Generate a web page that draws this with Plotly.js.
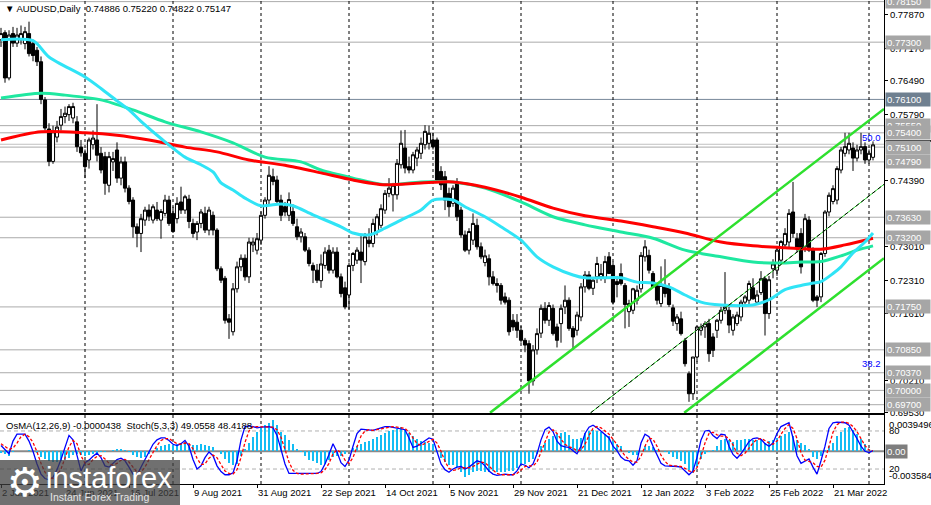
<!DOCTYPE html>
<html><head><meta charset="utf-8">
<script src="https://cdn.plot.ly/plotly-3.0.1.min.js"></script>
<style>html,body{margin:0;padding:0;background:#fff;overflow:hidden}#chart{width:931px;height:505px}</style>
</head><body><div id="chart"></div>
<script>
// ---------- DATA ----------
const opens = [
.7735,.7750,.7655,.7748,.7728,.7735,.7727,.7748,.7727,.7713,
.7689,.7609,.7548,.7480,.7531,.7556,.7574,.7578,.7571,.7563,
.7510,.7497,.7483,.7515,.7525,.7497,.7490,.7430,.7479,.7504,
.7445,.7479,.7424,.7399,.7343,.7329,.7357,.7378,.7357,.7378,
.7357,.7371,.7399,.7371,.7360,.7395,.7378,.7401,.7350,.7332,
.7350,.7371,.7336,.7367,.7336,.7255,.7235,.7150,.7123,.7213,
.7259,.7277,.7238,.7305,.7294,.7315,.7367,.7399,.7448,.7441,
.7399,.7385,.7367,.7375,.7343,.7322,.7322,.7294,.7262,.7252,
.7230,.7262,.7294,.7252,.7290,.7238,.7215,.7200,.7262,.7273,
.7290,.7270,.7315,.7308,.7333,.7346,.7378,.7413,.7410,.7410,
.7473,.7508,.7469,.7462,.7487,.7497,.7515,.7518,.7525,.7525,
.7459,.7448,.7413,.7392,.7434,.7378,.7326,.7294,.7315,.7346,
.7301,.7268,.7276,.7238,.7224,.7220,.7196,.7189,.7147,.7143,
.7126,.7105,.7098,.7020,.7085,.7120,.7172,.7147,.7172,.7133,
.7140,.7175,.7189,.7130,.7126,.7154,.7217,.7242,.7214,.7238,
.7238,.7235,.7280,.7262,.7228,.7245,.7220,.7165,.7168,.7189,
.7213,.7280,.7283,.7245,.7220,.7182,.7217,.7217,.7173,.7140,
.7150,.7105,.7035,.6993,.7070,.7126,.7133,.7140,.7112,.7126,
.7147,.7168,.7168,.7126,.7140,.7154,.7185,.7189,.7215,.7185,
.7205,.7234,.7161,.7255,.7252,.7273,.7305,.7311,.7374,.7318,
.7329,.7301,.7357,.7294,.7196,.7196,.7287,.7374,.7396,.7399,
.7462,.7497,.7504,.7508,.7487,.7504,.7511,.7483,.74886];
const highs = [
.7760,.7755,.7755,.7762,.7760,.7765,.7762,.7773,.7735,.7720,
.7700,.7615,.7560,.7555,.7565,.7590,.7595,.7600,.7603,.7575,
.7525,.7505,.7530,.7545,.7600,.7510,.7500,.7500,.7500,.7520,
.7490,.7490,.7430,.7405,.7350,.7370,.7385,.7390,.7390,.7395,
.7380,.7410,.7408,.7385,.7405,.7427,.7410,.7410,.7360,.7355,
.7380,.7385,.7385,.7375,.7340,.7260,.7240,.7160,.7225,.7270,
.7285,.7285,.7320,.7320,.7330,.7375,.7405,.7470,.7465,.7450,
.7410,.7395,.7415,.7390,.7360,.7340,.7330,.7300,.7268,.7265,
.7285,.7300,.7305,.7300,.7300,.7245,.7228,.7268,.7290,.7300,
.7325,.7330,.7340,.7360,.7370,.7390,.7420,.7445,.7435,.7485,
.7545,.7546,.7490,.7500,.7510,.7530,.7556,.7555,.7540,.7530,
.7470,.7460,.7425,.7430,.7445,.7385,.7335,.7340,.7371,.7360,
.7310,.7295,.7285,.7250,.7235,.7225,.7205,.7195,.7160,.7160,
.7135,.7110,.7105,.7095,.7130,.7180,.7185,.7185,.7180,.7140,
.7180,.7220,.7195,.7135,.7165,.7225,.7250,.7250,.7235,.7280,
.7265,.7282,.7290,.7270,.7240,.7266,.7225,.7190,.7215,.7220,
.7290,.7315,.7295,.7250,.7225,.7260,.7275,.7225,.7180,.7160,
.7165,.7110,.7040,.7070,.7135,.7140,.7145,.7150,.7120,.7150,
.7175,.7248,.7175,.7160,.7165,.7190,.7200,.7230,.7235,.7210,
.7250,.7240,.7240,.7275,.7300,.7315,.7340,.7380,.7437,.7330,
.7340,.7370,.7365,.7300,.7200,.7290,.7378,.7415,.7430,.7470,
.7510,.7540,.7540,.7520,.7515,.7540,.7520,.7505,.75220];
const lows = [
.7720,.7645,.7650,.7720,.7720,.7725,.7715,.7700,.7690,.7680,
.7600,.7545,.7470,.7475,.7520,.7545,.7560,.7565,.7560,.7500,
.7490,.7445,.7465,.7505,.7480,.7455,.7410,.7415,.7460,.7435,
.7430,.7415,.7390,.7320,.7300,.7290,.7345,.7355,.7350,.7355,
.7318,.7365,.7345,.7330,.7350,.7370,.7370,.7340,.7320,.7315,
.7340,.7330,.7325,.7325,.7250,.7225,.7140,.7108,.7115,.7205,
.7250,.7230,.7225,.7290,.7285,.7305,.7360,.7390,.7430,.7390,
.7355,.7365,.7355,.7345,.7315,.7310,.7290,.7260,.7225,.7225,
.7215,.7255,.7245,.7245,.7235,.7195,.7170,.7170,.7250,.7265,
.7225,.7262,.7300,.7300,.7325,.7340,.7370,.7405,.7375,.7400,
.7465,.7455,.7455,.7455,.7470,.7485,.7505,.7505,.7505,.7435,
.7420,.7378,.7364,.7385,.7355,.7320,.7290,.7285,.7305,.7295,
.7275,.7260,.7220,.7220,.7205,.7180,.7180,.7115,.7125,.7110,
.7100,.7080,.6993,.7010,.7075,.7110,.7140,.7135,.7115,.7090,
.7100,.7160,.7125,.7085,.7115,.7145,.7205,.7210,.7200,.7225,
.7230,.7225,.7245,.7180,.7195,.7220,.7130,.7133,.7160,.7180,
.7205,.7270,.7245,.7215,.7180,.7175,.7195,.7175,.7135,.7125,
.7115,.7050,.6976,.6980,.7060,.7115,.7110,.7060,.7070,.7110,
.7140,.7160,.7120,.7115,.7135,.7145,.7175,.7180,.7190,.7180,
.7200,.7115,.7150,.7235,.7240,.7265,.7300,.7300,.7320,.7290,
.7245,.7290,.7290,.7185,.7175,.7185,.7280,.7365,.7390,.7390,
.7455,.7490,.7495,.7460,.7480,.7495,.7475,.7475,.74822];
const closes = [
.7748,.7655,.7745,.7728,.7745,.7748,.7752,.7706,.7702,.7689,
.7610,.7550,.7480,.7542,.7552,.7574,.7581,.7595,.7595,.7511,
.7498,.7469,.7525,.7529,.7493,.7462,.7434,.7490,.7486,.7445,
.7479,.7424,.7396,.7343,.7329,.7360,.7378,.7365,.7385,.7360,
.7375,.7399,.7350,.7333,.7392,.7378,.7406,.7354,.7329,.7350,
.7374,.7336,.7378,.7336,.7255,.7231,.7147,.7143,.7213,.7259,
.7277,.7238,.7311,.7311,.7318,.7367,.7399,.7451,.7438,.7396,
.7367,.7374,.7400,.7350,.7322,.7332,.7294,.7266,.7252,.7231,
.7265,.7290,.7252,.7290,.7238,.7203,.7175,.7262,.7287,.7294,
.7273,.7322,.7308,.7350,.7364,.7381,.7413,.7424,.7430,.7476,
.7518,.7466,.7462,.7494,.7504,.7518,.7543,.7539,.7511,.7441,
.7431,.7399,.7385,.7424,.7364,.7326,.7294,.7333,.7350,.7301,
.7280,.7282,.7238,.7224,.7220,.7189,.7185,.7123,.7133,.7126,
.7105,.7095,.7020,.7085,.7119,.7172,.7147,.7178,.7119,.7105,
.7172,.7189,.7130,.7112,.7158,.7217,.7242,.7214,.7231,.7266,
.7245,.7270,.7245,.7185,.7222,.7224,.7180,.7182,.7213,.7210,
.7283,.7301,.7252,.7217,.7189,.7220,.7203,.7180,.7145,.7154,
.7119,.7056,.6993,.7070,.7133,.7133,.7140,.7077,.7084,.7147,
.7168,.7175,.7137,.7154,.7158,.7185,.7196,.7224,.7192,.7200,
.7234,.7161,.7232,.7265,.7294,.7312,.7329,.7371,.7329,.7298,
.7259,.7360,.7294,.7189,.7189,.7287,.7374,.7409,.7423,.7465,
.7504,.7511,.7518,.7487,.7504,.7511,.7483,.7497,.75147];

// moving averages, sampled along the bars (bar index, price)
const maFastIdx = [0,8,12,21,25,29,32,35,40,46,50,53,55,58,61,65,70,73,78,85,88,92,96,100,105,108,113,116,121,125,130,134,138,143,146,150,155,159,163,167,171,175,180,188,192,196,200,203,205,208,210,213,216,218];
const maFastVal = [.7735,.7733,.7699,.7657,.7633,.7607,.7588,.7564,.7528,.7489,.7473,.7458,.7435,.7420,.7403,.7387,.7391,.7387,.7368,.7343,.7330,.7326,.7340,.7357,.7378,.7399,.7399,.7385,.7364,.7343,.7315,.7280,.7259,.7242,.7236,.7236,.7236,.7227,.7225,.7217,.7200,.7185,.7179,.7179,.7190,.7211,.7220,.7225,.7228,.7245,.7259,.7288,.7311,.7330];
const maMidIdx = [0,10,16,25,33,41,50,58,66,75,80,88,96,105,113,121,130,138,146,155,163,171,180,188,195,200,205,210,214,218];
const maMidVal = [.7613,.7623,.7619,.7609,.7588,.7563,.7542,.7519,.7489,.7479,.7462,.7445,.7431,.7437,.7437,.7424,.7395,.7364,.7347,.7332,.7319,.7294,.7280,.7269,.7267,.7269,.7270,.7282,.7294,.7303];
const maSlowIdx = [0,10,21,29,37,46,54,62,71,80,88,96,105,113,121,130,138,146,155,163,171,180,188,196,205,211,218];
const maSlowVal = [.7525,.7542,.7540,.7535,.7525,.7510,.7500,.7483,.7472,.7456,.7441,.7431,.7435,.7437,.7426,.7405,.7382,.7366,.7355,.7343,.7330,.7311,.7303,.7299,.7296,.7305,.7319];

// rising channel (bar index, price at its two ends)
const chUpperIdx = [122.25, 220.75], chUpperVal = [0.6953, 0.7590];
const chMidIdx   = [147.4, 220.75],  chMidVal   = [0.6953, 0.7432];
const chLowIdx   = [170.8, 220.75],  chLowVal   = [0.6953, 0.7277];

// horizontal levels with their axis labels
const levelPrices = [0.7815,0.7730,0.7610,0.7555,0.7540,0.7510,0.7479,0.7363,0.7320,0.7175,0.7085,0.7037,0.7000,0.6970];
const levelLabels = ['0.78150','0.77300','0.76100','0.75550','0.75400','0.75100','0.74790','0.73630','0.73200','0.71750','0.70850','0.70370','0.70000','0.69700'];
const keyLevel = 0.7610;
const fibPrices = [0.7516, 0.7037];
const fibLabels = ['50.0', '38.2'];

// price axis ticks (those hidden behind level boxes are left out)
const priceTicks = [0.7787,0.7717,0.7649,0.7579,0.7439,0.7301,0.7231,0.7161,0.7021,0.6953];
const priceTickText = ['0.77870','0.77170','0.76490','0.75790','0.74390','0.73010','0.72310','0.71610','0.70210','0.69530'];

// time axis (bar index of each label) and month separators
const dateTickIdx = [0,16,32,48,64,80,96,112,128,144,160,176,192,208];
const dateTickText = ['2 Jun 2021','24 Jun 2021','16 Jul 2021','9 Aug 2021','31 Aug 2021','22 Sep 2021','14 Oct 2021','5 Nov 2021','29 Nov 2021','21 Dec 2021','12 Jan 2022','3 Feb 2022','25 Feb 2022','21 Mar 2022'];
const monthStartIdx = [21,43,65,87,108,130,153,174,194,217];

// OsMA histogram (units of 1e-4)
const osmaE4 = [
-2.1,-3.2,-4.9,-0.7,0,0.7,0.7,1.1,0,-2.5,
-6.7,-8.8,-10.9,-12.3,-12.3,-11.2,-9.8,-7.7,-3.9,-3.2,
-4.2,-4.9,-3.9,-2.8,-2.1,-1.4,-0.7,0.4,1.4,2.1,
2.8,1.8,-1.4,-4.6,-6.7,-7.4,-6.3,-2.8,0.7,3.9,
5.6,6.7,7.4,7.0,8.1,9.1,9.5,8.1,7.0,7.0,
7.4,6.7,6.0,4.6,0.7,-3.2,-8.4,-12.6,-15.1,-14.4,
-4.9,2.8,8.4,15.4,20.7,24.9,29.1,31.2,34.3,29.1,
21.4,17.2,11.9,7.4,2.8,-1.4,-5.6,-9.1,-11.2,-13.3,
-15.4,-13.7,-9.5,-6.3,-5.6,-4.9,-2.8,0,3.9,5.6,
7.4,9.5,11.6,13.7,15.8,17.9,20.0,21.7,22.8,24.5,
26.6,24.2,20.3,16.1,13.0,10.9,9.8,9.1,8.1,-1.0,
-7.0,-11.9,-14.7,-15.4,-17.2,-22.4,-28.7,-25.9,-22.4,-21.7,
-21.7,-22.4,-22.4,-21.7,-22.4,-23.1,-22.4,-21.7,-21.7,-18.2,
-15.4,-13.7,-11.9,-8.4,-3.2,5.6,9.1,13.3,16.1,18.5,
20.3,21.4,17.9,13.3,13.3,14.4,19.6,22.4,23.1,22.4,
21.4,18.9,16.1,10.9,7.4,5.6,0.4,-2.1,-4.2,-4.2,
0.4,5.6,5.6,4.6,1.4,0,-0.5,-3.2,-6.0,-8.4,
-10.2,-13.7,-20.7,-24.2,-17.2,-8.4,-3.2,-1.4,1.4,5.6,
12.6,13.3,12.6,9.8,11.9,12.6,13.3,13.3,12.6,12.6,
13.3,9.1,10.9,12.6,14.4,16.8,18.9,20.7,16.1,12.6,
9.1,6.3,2.1,-6.7,-8.4,-4.9,1.4,5.6,8.4,16.1,
21.4,24.9,25.9,23.1,18.9,13.3,7.4,2.8,-0.438];

// Stochastic(5,3,3): main and signal
const stochMain = [
57,51,44,64,75,75,75,64,48,28,
12,5,3,7,19,35,56,73,66,41,
17,30,34,40,45,38,25,23,29,35,
37,33,23,12,11,23,35,47,59,66,
69,69,65,59,57,60,65,56,35,20,
25,38,47,41,25,16,11,11,14,33,
66,87,88,87,85,86,86,87,85,73,
51,28,13,13,12,12,13,13,12,13,
16,28,43,60,47,30,24,34,56,76,
83,82,81,81,83,85,87,87,86,85,
84,82,69,54,56,60,64,69,67,48,
28,19,15,20,23,24,20,23,28,33,
31,25,17,12,10,11,12,11,11,17,
28,26,22,28,44,66,82,86,79,64,
57,55,54,49,44,56,76,86,89,85,
80,75,69,56,49,39,34,33,26,33,
61,75,71,56,42,29,25,25,25,24,
23,17,11,17,38,66,80,81,73,68,
75,74,56,43,37,44,53,63,68,69,
67,60,56,61,76,87,90,93,69,41,
29,32,36,23,12,33,56,84,93,94,
94,93,89,79,68,56,48,46,49.0558];
const stochSignal = [
60,55,51,53,61,71,75,71,62,47,
29,15,7,5,10,20,37,55,65,60,
41,29,27,35,40,41,36,29,26,29,
34,35,31,23,15,15,23,35,47,57,
65,68,68,64,60,59,61,60,52,37,
27,28,37,42,38,27,17,13,12,19,
38,62,80,87,87,86,86,86,86,82,
70,51,31,18,13,12,12,13,13,13,
14,19,29,44,50,46,34,29,38,55,
72,80,82,81,82,83,85,86,87,86,
85,84,78,68,60,57,60,64,67,61,
48,32,21,18,19,22,22,22,24,28,
31,30,24,18,13,11,11,11,11,13,
19,24,25,25,31,46,64,78,82,76,
67,59,55,53,49,50,59,73,84,87,
85,80,75,67,58,48,41,35,31,31,
40,56,69,67,56,42,32,26,25,25,
24,21,17,15,22,40,61,76,78,74,
72,72,68,58,45,41,45,53,61,67,
68,65,61,59,64,75,84,90,84,68,
46,34,32,30,24,23,34,58,78,90,
94,94,92,87,79,68,57,50,48.4188];

// ---------- CHART ----------
const F = 'Liberation Sans, Arial, sans-serif';
const barIdx = opens.map((_, k) => k);
const osma = osmaE4.map(v => v * 1e-4);
const last = opens.length - 1;
const XR = [-0.25, 220.75];

const traces = [
  {type:'candlestick', x:barIdx, open:opens, high:highs, low:lows, close:closes,
   xaxis:'x', yaxis:'y', whiskerwidth:0, hoverinfo:'skip',
   increasing:{line:{color:'#000', width:1}, fillcolor:'#ffffff'},
   decreasing:{line:{color:'#000', width:1}, fillcolor:'#000000'}},
  {type:'scatter', mode:'lines', x:maMidIdx, y:maMidVal, xaxis:'x', yaxis:'y',
   line:{color:'#1EE8A0', width:3, shape:'spline', smoothing:0.8}, hoverinfo:'skip'},
  {type:'scatter', mode:'lines', x:maSlowIdx, y:maSlowVal, xaxis:'x', yaxis:'y',
   line:{color:'#FF0000', width:3, shape:'spline', smoothing:0.8}, hoverinfo:'skip'},
  {type:'scatter', mode:'lines', x:maFastIdx, y:maFastVal, xaxis:'x', yaxis:'y',
   line:{color:'#30E4F6', width:3, shape:'spline', smoothing:0.8}, hoverinfo:'skip'},
  {type:'scatter', mode:'lines', x:chUpperIdx, y:chUpperVal, xaxis:'x', yaxis:'y',
   line:{color:'#2EE02E', width:2.5}, hoverinfo:'skip'},
  {type:'scatter', mode:'lines', x:chLowIdx, y:chLowVal, xaxis:'x', yaxis:'y',
   line:{color:'#2EE02E', width:2.5}, hoverinfo:'skip'},
  {type:'scatter', mode:'lines', x:chMidIdx, y:chMidVal, xaxis:'x', yaxis:'y',
   line:{color:'#2EE02E', width:1}, hoverinfo:'skip'},
  {type:'scatter', mode:'lines', x:chMidIdx, y:chMidVal, xaxis:'x', yaxis:'y',
   line:{color:'#000000', width:1, dash:'4px,3px'}, hoverinfo:'skip'},
  {type:'bar', x:barIdx, y:osma, xaxis:'x2', yaxis:'y2', width:0.72,
   marker:{color:'#12BDF4', line:{width:0}}, hoverinfo:'skip'},
  {type:'scatter', mode:'lines', x:barIdx, y:stochMain, xaxis:'x2', yaxis:'y3',
   line:{color:'#0000FF', width:1.3}, hoverinfo:'skip'},
  {type:'scatter', mode:'lines', x:barIdx, y:stochSignal, xaxis:'x2', yaxis:'y3',
   line:{color:'#FF0000', width:1.3, dash:'3px,2px'}, hoverinfo:'skip'}
];

const shapes = [];
levelPrices.forEach(p => shapes.push({type:'line', xref:'paper', x0:0, x1:1, yref:'y', y0:p, y1:p, layer:'below',
  line:{color: p === keyLevel ? '#778899' : '#ABABAB', width:1}}));
shapes.push({type:'line', xref:'paper', x0:0, x1:1, yref:'y', y0:fibPrices[0], y1:fibPrices[0], layer:'below', line:{color:'#C0C0C0', width:1}});
monthStartIdx.forEach(i => shapes.push({type:'line', xref:'x', x0:i, x1:i, yref:'paper', y0:0, y1:1, layer:'below',
  line:{color:'#000', width:1, dash:'3px,3px'}}));
shapes.push({type:'line', xref:'paper', x0:0, x1:1, yref:'y2', y0:0, y1:0, layer:'below', line:{color:'#8A8A8A', width:2}});
[80, 20].forEach(v => shapes.push({type:'line', xref:'paper', x0:0, x1:1, yref:'y3', y0:v, y1:v, layer:'below',
  line:{color:'#B0B0B0', width:1, dash:'4px,3px'}}));
// current price marker on the price scale
shapes.push({type:'line', xref:'paper', x0:1.002, x1:1.06, yref:'y', y0:0.7523, y1:0.7523, line:{color:'#000', width:2}});
// logo backdrop
shapes.push({type:'rect', xref:'paper', yref:'paper', x0:0, x1:180/884, y0:-21/484, y1:24/484, layer:'above',
  fillcolor:'rgba(62,62,62,0.74)', line:{width:0}});

const ann = [];
levelPrices.forEach((p, k) => ann.push({xref:'paper', x:1, xanchor:'left', xshift:1, yref:'y', y:p, yanchor:'middle',
  text:levelLabels[k], showarrow:false, align:'left', width:42, borderpad:1,
  bgcolor: p === keyLevel ? '#6F8090' : '#A6A6A6', font:{family:F, size:9.5, color:'#ffffff'}}));
ann.push({xref:'paper', x:1, xanchor:'right', xshift:-1, yref:'y', y:fibPrices[0], yanchor:'bottom', yshift:-1,
  text:fibLabels[0], showarrow:false, font:{family:F, size:9.5, color:'#0000FF'}});
ann.push({xref:'paper', x:1, xanchor:'right', xshift:-1, yref:'y', y:fibPrices[1], yanchor:'bottom', yshift:2,
  text:fibLabels[1], showarrow:false, font:{family:F, size:9.5, color:'#0000FF'}});
ann.push({xref:'paper', x:0, xanchor:'left', xshift:3, yref:'paper', y:1, yanchor:'top', yshift:-1,
  text:'▼ AUDUSD,Daily  ' + [opens[last], highs[last], lows[last], closes[last]].map(v => v.toFixed(5)).join(' '),
  showarrow:false, font:{family:F, size:9.5, color:'#000'}});
ann.push({xref:'paper', x:0, xanchor:'left', xshift:4, yref:'paper', y:59/484, yanchor:'middle',
  text:'OsMA(12,26,9) ' + (osmaE4[last]*1e-4).toFixed(7) + '  Stoch(5,3,3) ' + stochMain[last].toFixed(4) + ' ' + stochSignal[last].toFixed(4),
  showarrow:false, font:{family:F, size:9.5, color:'#000'}});
// indicator scale labels
const indLab = [['0.0039496', 91.0], ['80', 81.0], ['20', 20.5], ['-0.003584', 10.0]];
indLab.forEach(a => ann.push({xref:'paper', x:1, xanchor:'left', xshift:3, yref:'y3', y:a[1], yanchor:'middle',
  text:a[0], showarrow:false, font:{family:F, size:9.5, color:'#000'}}));
ann.push({xref:'paper', x:1, xanchor:'left', xshift:1, yref:'y2', y:0, yanchor:'middle', text:'0.00', showarrow:false,
  bgcolor:'#7E7E7E', borderpad:1, font:{family:F, size:9.5, color:'#fff'}});
// logo
ann.push({xref:'paper', yref:'paper', x:25/884, y:(484-482)/484, xanchor:'center', yanchor:'middle', text:'⚙', showarrow:false,
  font:{family:'DejaVu Sans', size:40, color:'#ffffff'}});
ann.push({xref:'paper', yref:'paper', x:44/884, y:(484-478)/484, xanchor:'left', yanchor:'middle', text:'instaforex', showarrow:false,
  font:{family:F, size:29, color:'#ffffff'}});
ann.push({xref:'paper', yref:'paper', x:48/884, y:(484-496.5)/484, xanchor:'left', yanchor:'middle', text:'Instant Forex Trading', showarrow:false,
  font:{family:F, size:10.5, color:'#E6E6E6'}});

const layout = {
  width:931, height:505, margin:{l:0, r:47, t:0, b:21},
  paper_bgcolor:'#ffffff', plot_bgcolor:'#ffffff', showlegend:false,
  font:{family:F, size:9.5, color:'#000'},
  boxgap:0.22, boxgroupgap:0, bargap:0,
  xaxis:{domain:[0,1], range:XR, anchor:'y', showticklabels:false, ticks:'', showgrid:false, zeroline:false,
    showline:true, linecolor:'#000', linewidth:1, rangeslider:{visible:false}, fixedrange:true},
  xaxis2:{domain:[0,1], range:XR, anchor:'y2', showgrid:false, zeroline:false, showline:true, mirror:true,
    linecolor:'#000', linewidth:1, ticks:'outside', ticklen:3, tickcolor:'#000',
    tickvals:dateTickIdx, ticktext:dateTickText, ticklabelposition:'outside right',
    tickfont:{family:F, size:9.5, color:'#000'}, fixedrange:true},
  yaxis:{domain:[1-413/484, 1], range:[0.69526, 0.78184], anchor:'x', side:'right', showgrid:false, zeroline:false,
    showline:true, linecolor:'#000', linewidth:1, ticks:'outside', ticklen:3, tickcolor:'#000',
    tickvals:priceTicks, ticktext:priceTickText, tickfont:{family:F, size:9.5, color:'#000'}, fixedrange:true},
  yaxis2:{domain:[0, 69/484], range:[-0.003584, 0.0039496], anchor:'x2', side:'right', showgrid:false, zeroline:false,
    showline:true, linecolor:'#000', linewidth:1, showticklabels:false, ticks:'', fixedrange:true},
  yaxis3:{overlaying:'y2', range:[-3.6, 105.2], anchor:'x2', side:'right', showgrid:false, zeroline:false,
    showline:false, showticklabels:false, ticks:'', fixedrange:true},
  shapes:shapes, annotations:ann
};

Plotly.newPlot('chart', traces, layout, {staticPlot:true, displayModeBar:false});
</script>
</body></html>
